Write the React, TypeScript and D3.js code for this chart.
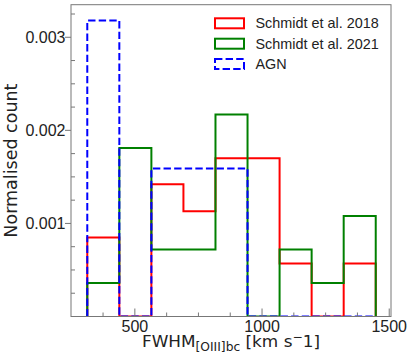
import React from "react"
import * as d3 from "d3"

// histogram bin edges (km/s) shared by all three samples
const binEdges = [313, 439, 565, 691, 817, 943, 1069, 1195, 1321, 1447]

// normalised counts per bin
const schmidt2018 = [0.00085, 0, 0.00142, 0.00113, 0.0017, 0.0017, 0.00057, 0, 0.00057]
const schmidt2021 = [0.00036, 0.00181, 0.00072, 0.00072, 0.00217, 0, 0.00072, 0.00036, 0.00108]
const agn = [0.00318, 0, 0.00159, 0.00159, 0.00159, 0, 0, 0, 0]

const xMajor = [500, 1000, 1500]
const xMinor = [375, 625, 750, 875, 1125, 1250, 1375]
const yMajor = [0.001, 0.002, 0.003]
const yMinor = [0.00025, 0.0005, 0.00075, 0.00125, 0.0015, 0.00175, 0.00225, 0.0025, 0.00275, 0.00325]

const series = [
  { name: "Schmidt et al. 2018", values: schmidt2018, color: "#ff0000", dash: null },
  { name: "Schmidt et al. 2021", values: schmidt2021, color: "#008000", dash: null },
  { name: "AGN", values: agn, color: "#0000ff", dash: "7.4 3.2" },
]

const W = 415
const H = 363
const left = 71
const right = 391
const top = 4.7
const bottom = 316.5

const tickFont = "'Liberation Sans', Arial, sans-serif"
const labelFont = "'DejaVu Sans', sans-serif"
const textColor = "#222"
const spineColor = "#777"

export default function App() {
  const x = d3.scaleLinear().domain([249, 1507]).range([left, right])
  const y = d3.scaleLinear().domain([0, 0.00335]).range([bottom, top])

  const stepPath = (values: number[]) => {
    const pts: [number, number][] = [[binEdges[0], 0]]
    values.forEach((v, i) => {
      pts.push([binEdges[i], v])
      pts.push([binEdges[i + 1], v])
    })
    pts.push([binEdges[binEdges.length - 1], 0])
    return d3
      .line<[number, number]>()
      .x(d => x(d[0]))
      .y(d => y(d[1]))(pts) as string
  }

  return (
    <div style={{ position: "absolute", left: 0, top: 0 }}>
      <svg width={W} height={H} style={{ display: "block", background: "#fff" }}>
        <defs>
          <clipPath id="plot">
            <rect x={left} y={top} width={right - left} height={bottom - top} />
          </clipPath>
        </defs>

        <g clipPath="url(#plot)">
          {series.map(s => (
            <path
              key={s.name}
              d={stepPath(s.values)}
              fill="none"
              stroke={s.color}
              strokeWidth={2}
              strokeDasharray={s.dash || undefined}
              strokeLinejoin="miter"
            />
          ))}
        </g>

        {/* frame */}
        <rect x={left} y={top} width={right - left} height={bottom - top} fill="none" stroke={spineColor} strokeWidth={1} />

        {/* x ticks (inside) */}
        {xMajor.map(t => (
          <g key={"xM" + t}>
            <line x1={x(t)} x2={x(t)} y1={bottom} y2={bottom - 8} stroke={spineColor} strokeWidth={1} />
            <text x={x(t)} y={332} textAnchor="middle" fontFamily={tickFont} fontSize={16} fill={textColor}>
              {t}
            </text>
          </g>
        ))}
        {xMinor.map(t => (
          <line key={"xm" + t} x1={x(t)} x2={x(t)} y1={bottom} y2={bottom - 4} stroke={spineColor} strokeWidth={1} />
        ))}

        {/* y ticks: major outside, minor inside */}
        {yMajor.map(t => (
          <g key={"yM" + t}>
            <line x1={left - 6} x2={left} y1={y(t)} y2={y(t)} stroke={spineColor} strokeWidth={1} />
            <text x={65.5} y={y(t) + 5.8} textAnchor="end" fontFamily={tickFont} fontSize={16} fill={textColor}>
              {t.toFixed(3)}
            </text>
          </g>
        ))}
        {yMinor.map(t => (
          <line key={"ym" + t} x1={left} x2={left + 4} y1={y(t)} y2={y(t)} stroke={spineColor} strokeWidth={1} />
        ))}

        {/* axis labels */}
        <text
          transform={`translate(17, ${(top + bottom) / 2}) rotate(-90)`}
          textAnchor="middle"
          fontFamily={labelFont}
          fontSize={17.5}
          fill={textColor}
        >
          Normalised count
        </text>
        <text
          x={(left + right) / 2}
          y={346.5}
          textAnchor="middle"
          fontFamily={labelFont}
          fontSize={16.5}
          fill={textColor}
          textLength={178}
          lengthAdjust="spacingAndGlyphs"
        >
          <tspan>FWHM</tspan>
          <tspan fontSize={12} dy={4}>[OIII]bc</tspan>
          <tspan dy={-4}> [km s</tspan>
          <tspan fontSize={12} dy={-6}>{"\u2212"}</tspan>
          <tspan dy={6}>1]</tspan>
        </text>

        {/* legend */}
        {series.map((s, i) => {
          const cy = 23.3 + i * 20.4
          return (
            <g key={"lg" + s.name}>
              <rect
                x={215}
                y={cy - 5}
                width={29}
                height={10}
                fill="none"
                stroke={s.color}
                strokeWidth={2}
                strokeDasharray={s.dash || undefined}
              />
              <text x={255.5} y={cy + 5} fontFamily={tickFont} fontSize={14.4} fill={textColor}>
                {s.name}
              </text>
            </g>
          )
        })}
      </svg>
    </div>
  )
}
